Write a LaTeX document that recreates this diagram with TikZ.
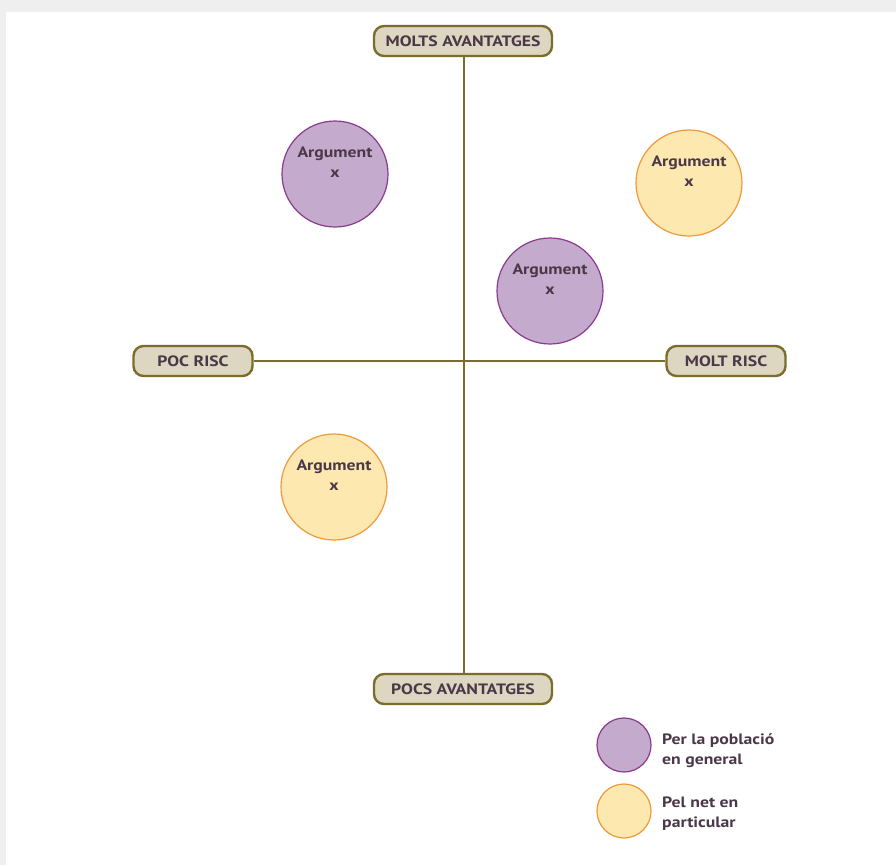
\documentclass[tikz,border=0pt]{standalone}
\usepackage{fontspec}
\setmainfont{PT Sans}[FakeStretch=1.18]
\begin{document}
\begin{tikzpicture}[x=1pt,y=-1pt,
  txt/.style={text=textc,font=\bfseries\fontsize{15}{20}\selectfont},
  axislabel/.style={txt,draw=olive2,line width=2.4pt,fill=beige,rounded corners=10pt,minimum height=30pt,inner xsep=8pt},
  purplec/.style={circle,draw=purpleb,line width=1.2pt,fill=purplef,minimum size=106pt,inner sep=0pt},
  yellowc/.style={circle,draw=yellowb,line width=1.2pt,fill=yellowf,minimum size=106pt,inner sep=0pt},
  argtext/.style={txt,align=center,inner sep=0pt},
  axisline/.style={draw=olive2,line width=1.6pt}]
\definecolor{textc}{HTML}{4A3848}
\definecolor{olive2}{HTML}{7A6E2A}
\definecolor{beige}{HTML}{DDD6C0}
\definecolor{purpleb}{HTML}{8B3A8F}
\definecolor{purplef}{HTML}{C4AACC}
\definecolor{yellowb}{HTML}{EE9A3A}
\definecolor{yellowf}{HTML}{FDE8B0}
\definecolor{bggray}{HTML}{EFEFEF}
\useasboundingbox (0,0) rectangle (896,865);
\fill[bggray] (0,0) rectangle (896,865);
\fill[white] (6,12) rectangle (896,865);
% axis labels
\node[axislabel,minimum width=178pt] (top) at (463,41) {MOLTS AVANTATGES};
\node[axislabel,minimum width=178pt] (bottom) at (463,689) {POCS AVANTATGES};
\node[axislabel,minimum width=119pt] (left) at (193,361) {POC RISC};
\node[axislabel,minimum width=119pt] (right) at (726,361) {MOLT RISC};
\coordinate (vx) at (464,361);
\draw[axisline] (top.south -| vx) -- (bottom.north -| vx);
\draw[axisline] (left.east) -- (right.west);
% circles
\node[purplec] (c1) at (335,174) {};
\node[yellowc] (c2) at (689,183) {};
\node[purplec] (c3) at (550,291) {};
\node[yellowc] (c4) at (334,487) {};
\node[argtext,anchor=north] (t1) at ([yshift=27pt]c1.center) {Argument\\x};
\node[argtext,anchor=north] (t2) at ([yshift=27pt]c2.center) {Argument\\x};
\node[argtext,anchor=north] (t3) at ([yshift=27pt]c3.center) {Argument\\x};
\node[argtext,anchor=north] (t4) at ([yshift=27pt]c4.center) {Argument\\x};
% legend
\node[purplec,minimum size=54pt] (l1) at (624,745) {};
\node[yellowc,minimum size=54pt] (l2) at (624,811) {};
\node[txt,align=left,anchor=west,inner sep=0pt] (lt1) at (662,751) {Per la població\\en general};
\node[txt,align=left,anchor=west,inner sep=0pt] (lt2) at (662,814) {Pel net en\\particular};
\end{tikzpicture}
\end{document}
